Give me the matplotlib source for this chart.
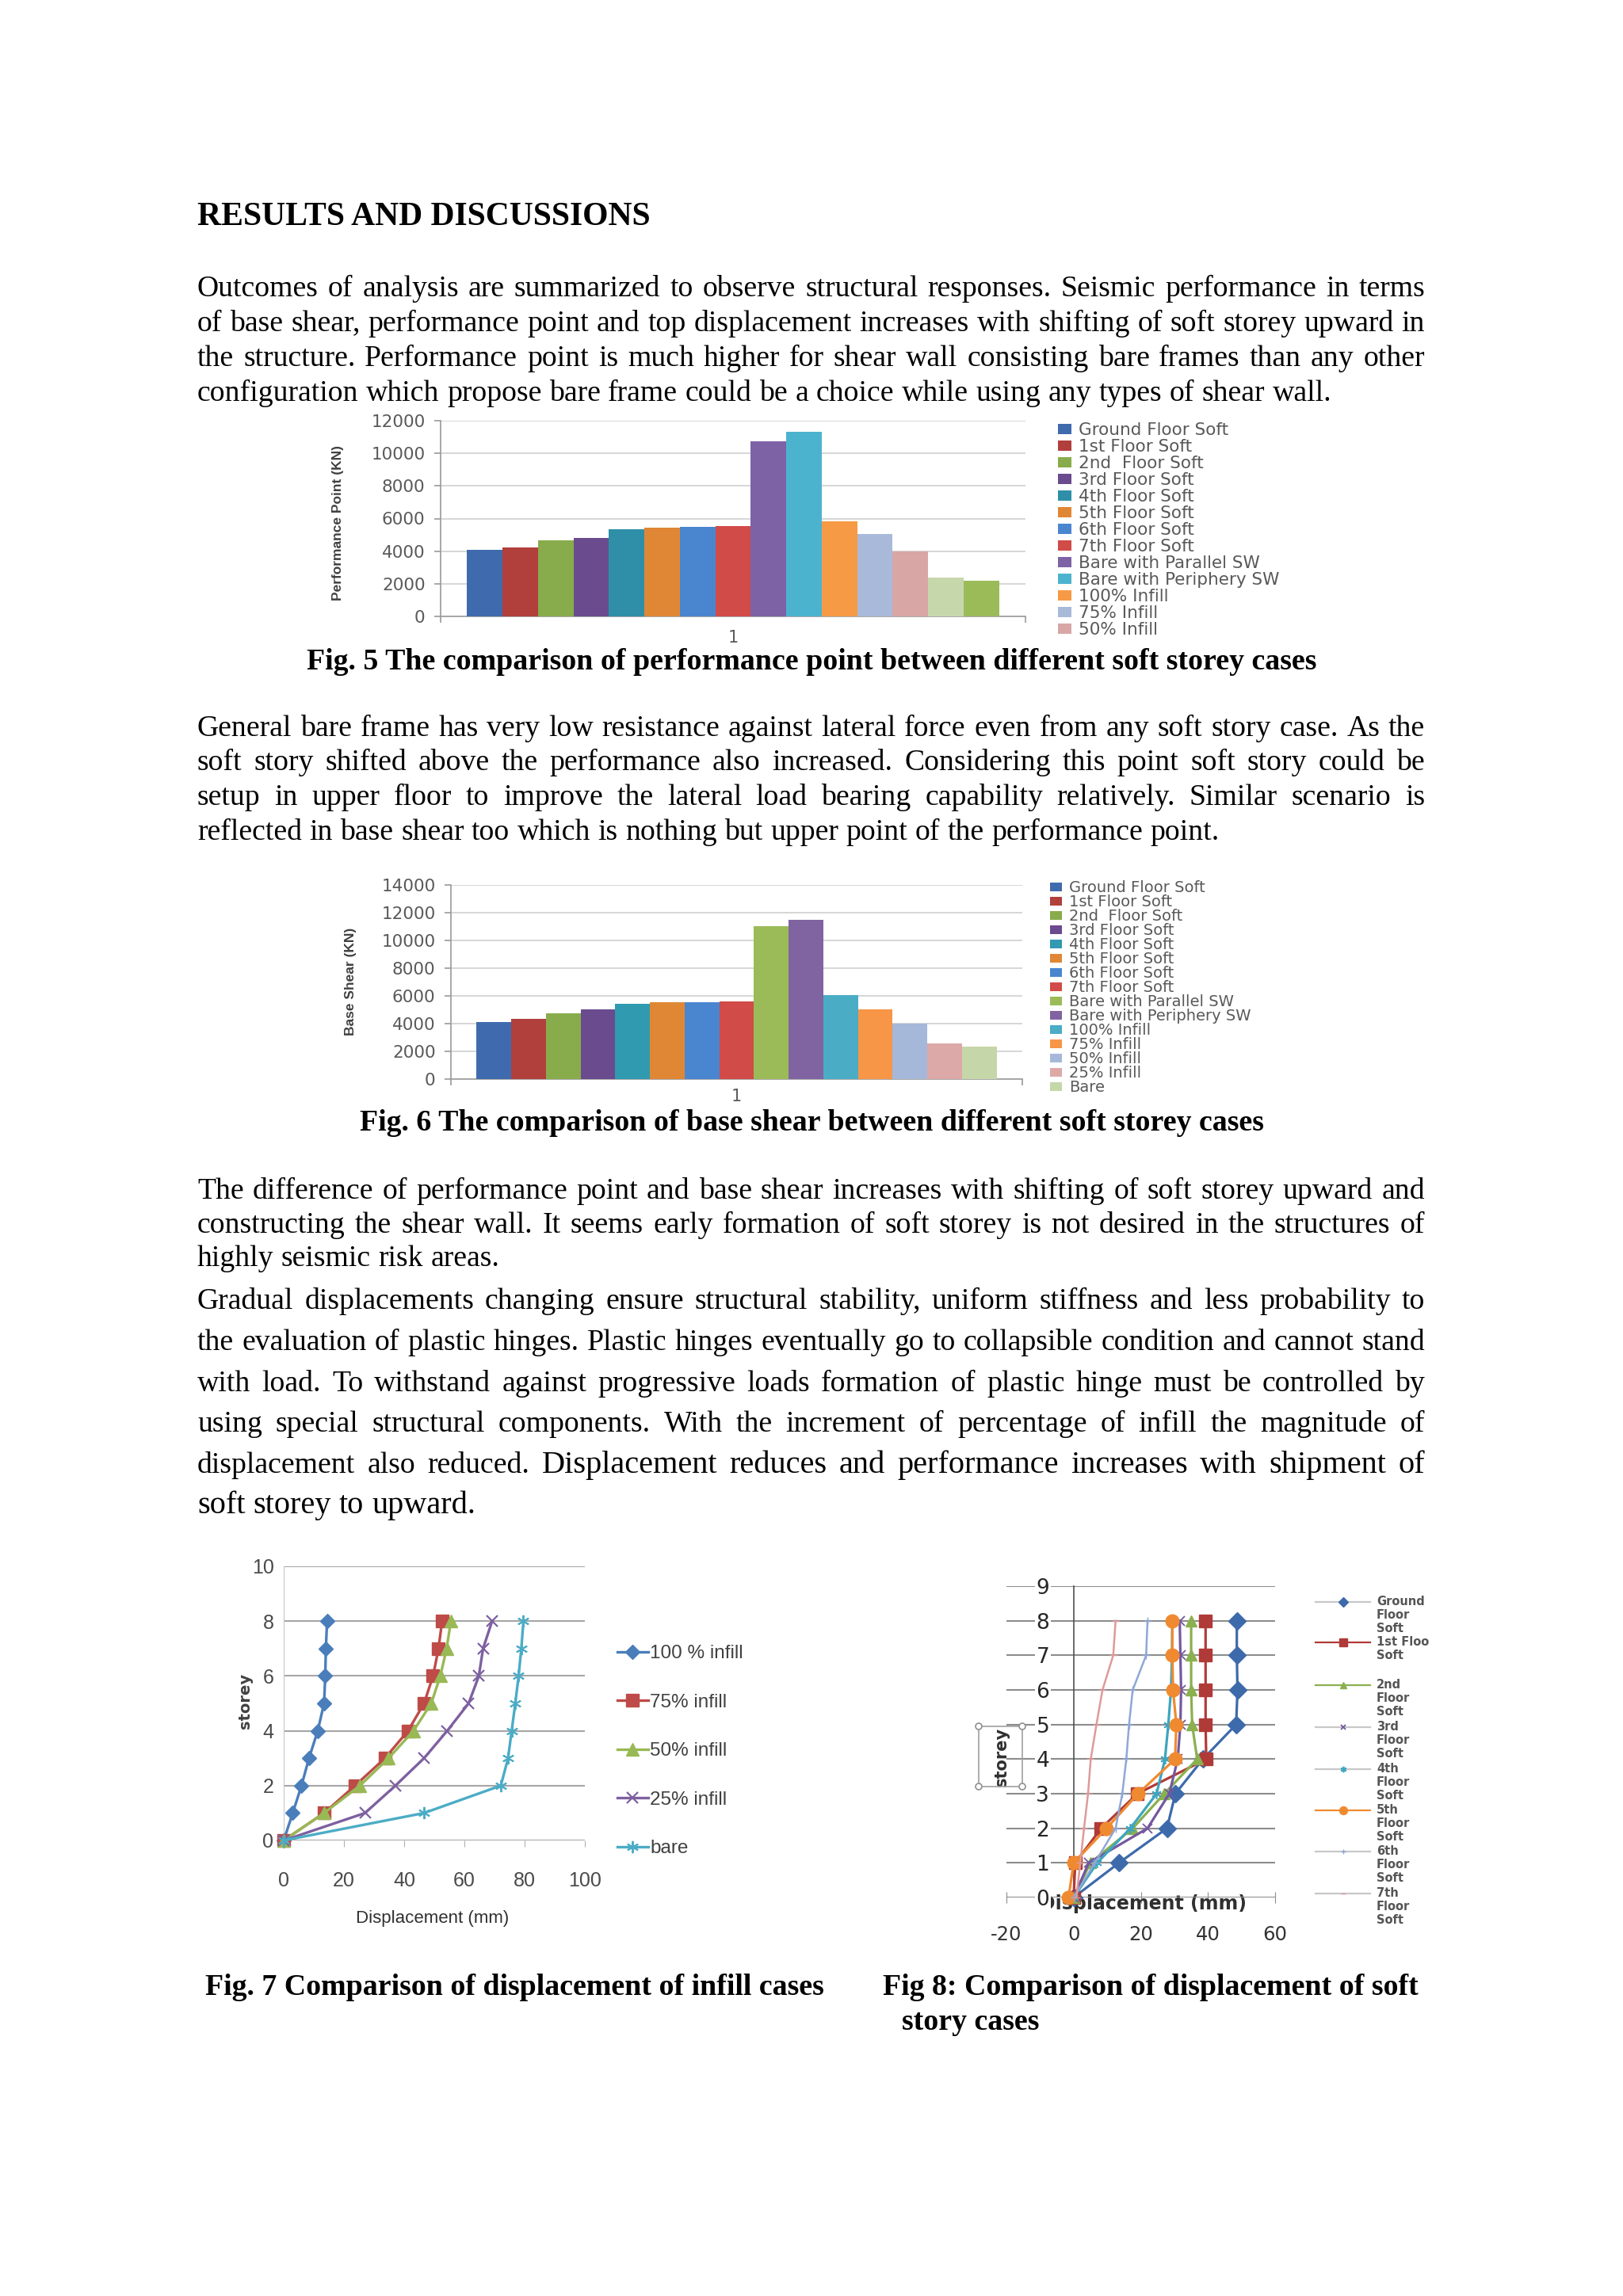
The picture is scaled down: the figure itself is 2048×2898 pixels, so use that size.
import matplotlib
matplotlib.use('Agg')
import matplotlib.pyplot as plt
from matplotlib.font_manager import FontProperties, findfont
from matplotlib.lines import Line2D
from matplotlib.patches import Rectangle, Ellipse

W, H = 2048, 2898

def pick_font(cands):
    for c in cands:
        try:
            findfont(FontProperties(family=c), fallback_to_default=False)
            return c
        except Exception:
            pass
    return 'DejaVu Sans'

SERIF = pick_font(['Liberation Serif', 'DejaVu Serif'])
NARROW = pick_font(['Liberation Sans Narrow', 'Liberation Sans'])
SANS = 'DejaVu Sans'
plt.rcParams['font.family'] = [SANS]
plt.rcParams['axes.unicode_minus'] = False

# ---------------- DATA ----------------
fig5_categories = ['Ground Floor Soft', '1st Floor Soft', '2nd  Floor Soft', '3rd Floor Soft',
                   '4th Floor Soft', '5th Floor Soft', '6th Floor Soft', '7th Floor Soft',
                   'Bare with Parallel SW', 'Bare with Periphery SW', '100% Infill',
                   '75% Infill', '50% Infill', '25% Infill', 'Bare']
fig5_values = [4070, 4230, 4650, 4800, 5360, 5460, 5490, 5520, 10740, 11310, 5820, 5060, 3960, 2390, 2210]
fig5_colors = ['#3F6BAE', '#B13F3C', '#88AC4B', '#6A4B8E', '#2F8FA8', '#E08735', '#4A86D0', '#D14B48',
               '#7E62A6', '#4CB3CF', '#F79A45', '#A9B9DA', '#D9A6A6', '#C7D7AC', '#9BBB59']
fig5_legend_count = 13
fig5_yticks = [0, 2000, 4000, 6000, 8000, 10000, 12000]

fig6_categories = ['Ground Floor Soft', '1st Floor Soft', '2nd  Floor Soft', '3rd Floor Soft',
                   '4th Floor Soft', '5th Floor Soft', '6th Floor Soft', '7th Floor Soft',
                   'Bare with Parallel SW', 'Bare with Periphery SW', '100% Infill',
                   '75% Infill', '50% Infill', '25% Infill', 'Bare']
fig6_values = [4130, 4340, 4720, 5030, 5430, 5560, 5560, 5620, 11050, 11490, 6040, 5050, 4000, 2570, 2320]
fig6_colors = ['#3F6BAE', '#B13F3C', '#88AC4B', '#6A4B8E', '#2F9AB0', '#E08735', '#4A86D0', '#D14B48',
               '#9BBB59', '#8064A2', '#4BACC6', '#F79646', '#A5B8DA', '#DDA9A8', '#C5D6A8']
fig6_yticks = [0, 2000, 4000, 6000, 8000, 10000, 12000, 14000]

storeys = [0, 1, 2, 3, 4, 5, 6, 7, 8]

fig7_labels = ['100 % infill', '75% infill', '50% infill', '25% infill', 'bare']
infill_100 = [0, 3.0, 5.9, 8.4, 11.3, 13.4, 13.8, 14.0, 14.4]
infill_75 = [0, 13.4, 23.7, 33.6, 41.3, 46.6, 49.6, 51.4, 52.6]
infill_50 = [0, 13.4, 25.3, 34.8, 43.1, 49.0, 52.0, 54.1, 55.5]
infill_25 = [0, 27.0, 37.1, 46.6, 54.3, 61.4, 64.8, 66.2, 69.2]
infill_bare = [0, 46.6, 72.1, 74.5, 75.7, 76.9, 78.0, 78.9, 79.6]
fig7_xticks = [0, 20, 40, 60, 80, 100]
fig7_yticks = [0, 2, 4, 6, 8, 10]

fig8_labels = ['Ground\nFloor\nSoft', '1st Floo\nSoft', '2nd\nFloor\nSoft', '3rd\nFloor\nSoft',
               '4th\nFloor\nSoft', '5th\nFloor\nSoft', '6th\nFloor\nSoft', '7th\nFloor\nSoft']
soft_ground = [0, 13.5, 27.8, 30.3, 38.5, 48.4, 48.8, 48.6, 48.6]
soft_1st = [0, 0.5, 8.2, 19.0, 39.5, 39.3, 39.3, 39.3, 39.3]
soft_2nd = [0, 5.0, 17.6, 27.0, 36.8, 35.3, 35.0, 35.0, 35.0]
soft_3rd = [0, 4.5, 22.0, 28.5, 31.0, 31.8, 32.0, 31.8, 31.6]
soft_4th = [0, 7.0, 16.9, 24.7, 27.2, 28.2, 29.0, 29.3, 29.4]
soft_5th = [-1.5, 0, 9.8, 19.2, 30.2, 30.6, 29.6, 29.4, 29.4]
soft_6th = [0, 6.3, 12.5, 14.5, 15.7, 16.5, 17.6, 21.6, 22.0]
soft_7th = [0.8, 2.0, 3.1, 4.3, 5.1, 6.8, 8.6, 11.8, 12.5]
fig8_xticks = [-20, 0, 20, 40, 60]
fig8_yticks = [0, 1, 2, 3, 4, 5, 6, 7, 8, 9]

# ---------------- FIGURE ----------------
fig = plt.figure(figsize=(W / 100, H / 100), dpi=100)
fig.patch.set_facecolor('white')
renderer = fig.canvas.get_renderer()


def fx(x):
    return x / W


def fy(y):
    return 1 - y / H


def tw(s, fp):
    w, h, d = renderer.get_text_width_height_descent(s, fp, ismath=False)
    return w


def add_ax(l, t, r, b):
    return fig.add_axes([l / W, 1 - b / H, (r - l) / W, (b - t) / H])


def cond(size, weight='normal'):
    return FontProperties(family=NARROW, size=size, weight=weight, stretch='condensed')


# ---------------- BODY TEXT ----------------
LEFT, RIGHT = 249, 1798
paragraphs = [
    [(374, "Outcomes of analysis are summarized to observe structural responses. Seismic performance in terms", True),
     (418, "of base shear, performance point and top displacement increases with shifting of soft storey upward in", True),
     (462, "the structure. Performance point is much higher for shear wall consisting bare frames than any other", True),
     (506, "configuration which propose bare frame could be a choice while using any types of shear wall.", False)],
    [(929, "General bare frame has very low resistance against lateral force even from any soft story case. As the", True),
     (972, "soft story shifted above the performance also increased. Considering this point soft story could be", True),
     (1016, "setup in upper floor to improve the lateral load bearing capability relatively. Similar scenario is", True),
     (1060, "reflected in base shear too which is nothing but upper point of the performance point.", False)],
    [(1513, "The difference of performance point and base shear increases with shifting of soft storey upward and", True),
     (1556, "constructing the shear wall. It seems early formation of soft storey is not desired in the structures of", True),
     (1598, "highly seismic risk areas.", False)],
    [(1652, "Gradual displacements changing ensure structural stability, uniform stiffness and less probability to", True),
     (1704, "the evaluation of plastic hinges. Plastic hinges eventually go to collapsible condition and cannot stand", True),
     (1756, "with load. To withstand against progressive loads formation of plastic hinge must be controlled by", True),
     (1807, "using special structural components. With the increment of percentage of infill the magnitude of", True)],
]
mixed_line = (1859, "displacement also reduced.", "Displacement reduces and performance increases with shipment of")
last_line = (1910, "soft storey to upward.")

S0 = 20.0
fp0 = FontProperties(family=SERIF, size=S0)
sp0 = tw('a a', fp0) - tw('aa', fp0)
maxw = 0
for para in paragraphs:
    for y, s, j in para:
        words = s.split()
        nat = sum(tw(w, fp0) for w in words) + sp0 * (len(words) - 1)
        maxw = max(maxw, nat)
BODY = S0 * (RIGHT - LEFT) / maxw * 0.995
BIG = BODY * 1.07
fp_body = FontProperties(family=SERIF, size=BODY)
fp_big = FontProperties(family=SERIF, size=BIG)


def draw_words(items, y, justify):
    widths = [tw(w, fp) for w, fp in items]
    if justify and len(items) > 1:
        gap = (RIGHT - LEFT - sum(widths)) / (len(items) - 1)
    else:
        fp = items[0][1]
        gap = tw('a a', fp) - tw('aa', fp)
    x = LEFT
    for (w, fp), wd in zip(items, widths):
        fig.text(fx(x), fy(y), w, fontproperties=fp, ha='left', va='baseline', color='black')
        x += wd + gap


for para in paragraphs:
    for y, s, j in para:
        draw_words([(w, fp_body) for w in s.split()], y, j)
draw_words([(w, fp_body) for w in mixed_line[1].split()] + [(w, fp_big) for w in mixed_line[2].split()],
           mixed_line[0], True)
draw_words([(w, fp_big) for w in last_line[1].split()], last_line[0], False)

# header
hdr = "RESULTS AND DISCUSSIONS"
fpb0 = FontProperties(family=SERIF, size=S0, weight='bold')
HDR = S0 * 571 / tw(hdr, fpb0)
fig.text(fx(LEFT), fy(284), hdr, fontproperties=FontProperties(family=SERIF, size=HDR, weight='bold'),
         ha='left', va='baseline', color='black')

# captions
cap5 = "Fig. 5 The comparison of performance point between different soft storey cases"
CAP = S0 * 1272 / tw(cap5, fpb0)
fp_cap = FontProperties(family=SERIF, size=CAP, weight='bold')
fig.text(0.5, fy(845), cap5, fontproperties=fp_cap, ha='center', va='baseline')
fig.text(0.5, fy(1427), "Fig. 6 The comparison of base shear between different soft storey cases",
         fontproperties=fp_cap, ha='center', va='baseline')
fig.text(fx(259), fy(2518), "Fig. 7 Comparison of displacement of infill cases",
         fontproperties=fp_cap, ha='left', va='baseline')
fig.text(fx(1114), fy(2518), "Fig 8: Comparison of displacement of soft",
         fontproperties=fp_cap, ha='left', va='baseline')
fig.text(fx(1138), fy(2562), "story cases", fontproperties=fp_cap, ha='left', va='baseline')


# ---------------- legend helper ----------------
def place_legend(ax, handles, labels, left_x, first_center, spacing, fp, color, hl, hh, htp):
    kw = dict(loc='upper left', bbox_transform=fig.transFigure, frameon=False, borderpad=0,
              borderaxespad=0, handlelength=hl, handleheight=hh, handletextpad=htp, prop=fp,
              labelcolor=color, numpoints=1)
    leg = ax.legend(handles, labels, bbox_to_anchor=(fx(left_x), fy(first_center)), labelspacing=0, **kw)
    h = leg.get_window_extent(renderer).height
    r = h / len(labels)
    fs_px = fp.get_size_in_points() * 100 / 72
    ls = (spacing - r) / fs_px
    leg.remove()
    leg = ax.legend(handles, labels, bbox_to_anchor=(fx(left_x), fy(first_center - r / 2)),
                    labelspacing=ls, **kw)
    return leg


# ---------------- BAR CHARTS ----------------
def bar_chart(box, cats, vals, cols, yticks, ylabel, ylabel_xy, nleg, leg_x, leg_y0, leg_sp, leg_fs, xlab_pad,
              hl, hh):
    l, t, r, b = box
    ax = add_ax(l, t, r, b)
    n = len(vals)
    group = 0.91
    bw = group / n
    handles = []
    for i, (c, v, col) in enumerate(zip(cats, vals, cols)):
        bars = ax.bar(-group / 2 + (i + 0.5) * bw, v, width=bw, color=col, linewidth=0, zorder=3)
        handles.append(bars[0])
    ax.set_xlim(-0.5, 0.5)
    ax.set_ylim(yticks[0], yticks[-1])
    ax.set_yticks(yticks)
    ax.yaxis.grid(True, color='#D0D0D0', lw=1.2)
    ax.set_axisbelow(True)
    ax.set_xticks([0])
    ax.set_xticklabels(['1'])
    ax.set_xticks([-0.5, 0.5], minor=True)
    ax.tick_params(axis='x', which='major', length=0, pad=xlab_pad, labelsize=15, labelcolor='#595959')
    ax.tick_params(axis='x', which='minor', length=6, color='#9A9A9A', width=1.2)
    ax.tick_params(axis='y', length=6, color='#9A9A9A', width=1.2, pad=8, labelsize=15.5, labelcolor='#595959')
    for s in ['top', 'right']:
        ax.spines[s].set_visible(False)
    for s in ['left', 'bottom']:
        ax.spines[s].set_color('#9A9A9A')
        ax.spines[s].set_linewidth(1.2)
    ax.set_ylabel(ylabel, fontproperties=cond(12.5, 'bold'), color='#404040', va='center')
    ax.yaxis.set_label_coords((ylabel_xy[0] - l) / (r - l), (b - ylabel_xy[1]) / (b - t))
    fpl = FontProperties(family=SANS, size=leg_fs)
    place_legend(ax, handles[:nleg], cats[:nleg], leg_x, leg_y0, leg_sp, fpl, '#595959', hl, hh, 0.45)
    return ax


bar_chart((556, 531, 1294, 778), fig5_categories, fig5_values, fig5_colors, fig5_yticks,
          'Performance Point (KN)', (426, 660), fig5_legend_count, 1335, 543, 21.0, 15.5, 12, 0.78, 0.55)
bar_chart((569, 1117, 1290, 1362), fig6_categories, fig6_values, fig6_colors, fig6_yticks,
          'Base Shear (KN)', (443, 1239), len(fig6_categories), 1325, 1121, 18.0, 14.0, 9, 0.78, 0.55)

# ---------------- FIG 7 ----------------
l, t, r, b = 358, 1977, 738, 2323
ax7 = add_ax(l, t, r, b)
s7 = [
    (infill_100, '#4A7EBB', 'D', 9, 1),
    (infill_75, '#BE4B48', 's', 11, 1),
    (infill_50, '#98B954', '^', 11, 1),
    (infill_25, '#7D60A0', 'x', 10, 1.6),
    (infill_bare, '#4BACC6', (6, 2, 0), 11, 1.4),
]
h7 = []
for (vals, col, mk, ms, mew), lab in zip(s7, fig7_labels):
    ln, = ax7.plot(vals, storeys, color=col, lw=2.4, marker=mk, ms=ms, mew=mew, mec=col, mfc=col,
                   label=lab, zorder=3, clip_on=False)
    h7.append(ln)
ax7.set_xlim(0, 100)
ax7.set_ylim(0, 10)
ax7.set_xticks(fig7_xticks)
ax7.set_yticks(fig7_yticks)
ax7.yaxis.grid(True, color='#A6A6A6', lw=1.5)
ax7.set_axisbelow(True)
for s in ['top', 'right', 'bottom']:
    ax7.spines[s].set_visible(False)
ax7.spines['left'].set_color('#C8C8C8')
ax7.tick_params(axis='x', length=6, color='#B0B0B0', pad=22, labelcolor='#4A4A4A', labelsize=18,
                labelfontfamily=NARROW)
ax7.tick_params(axis='y', length=0, pad=9, labelcolor='#4A4A4A', labelsize=18, labelfontfamily=NARROW)
ax7.set_xlabel('Displacement (mm)', fontproperties=cond(16), color='#303030', va='center')
ax7.xaxis.set_label_coords((546 - l) / (r - l), -(2422 - b) / (b - t))
ax7.set_ylabel('storey', fontfamily=SANS, fontweight='bold', fontsize=14, color='#404040', va='center')
ax7.yaxis.set_label_coords((309 - l) / (r - l), (b - 2147) / (b - t))
place_legend(ax7, h7, fig7_labels, 779, 2087, 61.5, cond(17.5), '#404040', 1.6, 0.7, 0.1)

# ---------------- FIG 8 ----------------
l, t, r, b = 1270, 2002, 1609, 2395
ax8 = add_ax(l, t, r, b)
s8 = [
    (soft_ground, '#3D6AAB', 'D', 11, 1, 2.3),
    (soft_1st, '#B03A37', 's', 12, 1, 2.3),
    (soft_2nd, '#8AB04F', '^', 10, 1, 2.3),
    (soft_3rd, '#7358A0', 'x', 8, 1.3, 2.3),
    (soft_4th, '#3DA5C0', (6, 2, 0), 9, 1.2, 2.3),
    (soft_5th, '#F08A30', 'o', 12, 1, 2.3),
    (soft_6th, '#8FA7D6', '+', 7, 1, 1.8),
    (soft_7th, '#DE9A9A', '_', 7, 1, 1.8),
]
for vals, col, mk, ms, mew, lw in s8:
    ax8.plot(vals, storeys, color=col, lw=lw, marker=mk, ms=ms, mew=mew, mec=col, mfc=col,
             zorder=3, clip_on=False)
ax8.set_xlim(-20, 60)
ax8.set_ylim(0, 9)
ax8.set_xticks(fig8_xticks)
ax8.set_yticks(fig8_yticks)
ax8.yaxis.grid(True, color='#8C8C8C', lw=1.5)
ax8.set_axisbelow(True)
for s in ['top', 'right', 'bottom']:
    ax8.spines[s].set_visible(False)
ax8.spines['left'].set_position(('data', 0))
ax8.spines['left'].set_color('#505050')
ax8.spines['left'].set_linewidth(1.2)
ax8.tick_params(axis='x', direction='inout', length=10, color='#8C8C8C', pad=20, labelsize=17.5,
                labelcolor='#333333')
ax8.tick_params(axis='y', length=0, pad=22, labelsize=19, labelcolor='#262626')
for lbl in ax8.get_yticklabels():
    lbl.set_bbox(dict(facecolor='white', edgecolor='none', pad=1))
ax8.set_xlabel('Displacement (mm)', fontfamily=SANS, fontweight='bold', fontsize=17, color='#303030',
               va='center')
ax8.xaxis.set_label_coords((1443 - l) / (r - l), -(2403 - b) / (b - t))
ax8.set_ylabel('storey', fontfamily=SANS, fontweight='bold', fontsize=15, color='#303030', va='center')
ax8.yaxis.set_label_coords((1264 - l) / (r - l), (b - 2217) / (b - t))

# selection box around the "storey" title
fig.add_artist(Rectangle((fx(1235), fy(2255)), (1290 - 1235) / W, (2255 - 2179) / H,
                         transform=fig.transFigure, fill=False, ec='#A0A0A0', lw=1.2))
for cx in (1235, 1290):
    for cy in (2179, 2255):
        fig.add_artist(Ellipse((fx(cx), fy(cy)), 8 / W, 8 / H, transform=fig.transFigure,
                               fc='white', ec='#909090', lw=1.2))

# fig 8 legend (drawn by hand to keep the marker on the first text line)
leg8_y = [2022, 2073, 2127, 2180, 2233, 2285, 2337, 2390]
leg8_line_col = ['#C8C8C8', '#B03A37', '#8AB04F', '#C8C8C8', '#C8C8C8', '#F08A30', '#C8C8C8', '#C8C8C8']
fp_leg8 = FontProperties(family=SANS, size=10.5, weight='bold')
for (vals, col, mk, ms, mew, lw), lab, yy, lc in zip(s8, fig8_labels, leg8_y, leg8_line_col):
    fig.add_artist(Line2D([fx(1660), fx(1729)], [fy(yy), fy(yy)], transform=fig.transFigure,
                          color=lc, lw=1.6))
    fig.add_artist(Line2D([fx(1695)], [fy(yy)], transform=fig.transFigure, color=col, marker=mk,
                          ms=ms * 0.6, mew=mew, mec=col, mfc=col, lw=0))
    fig.text(fx(1737), fy(yy - 8), lab, fontproperties=fp_leg8, color='#555555', ha='left', va='top',
             linespacing=1.15)

fig.savefig('out.png', dpi=100, facecolor='white')
